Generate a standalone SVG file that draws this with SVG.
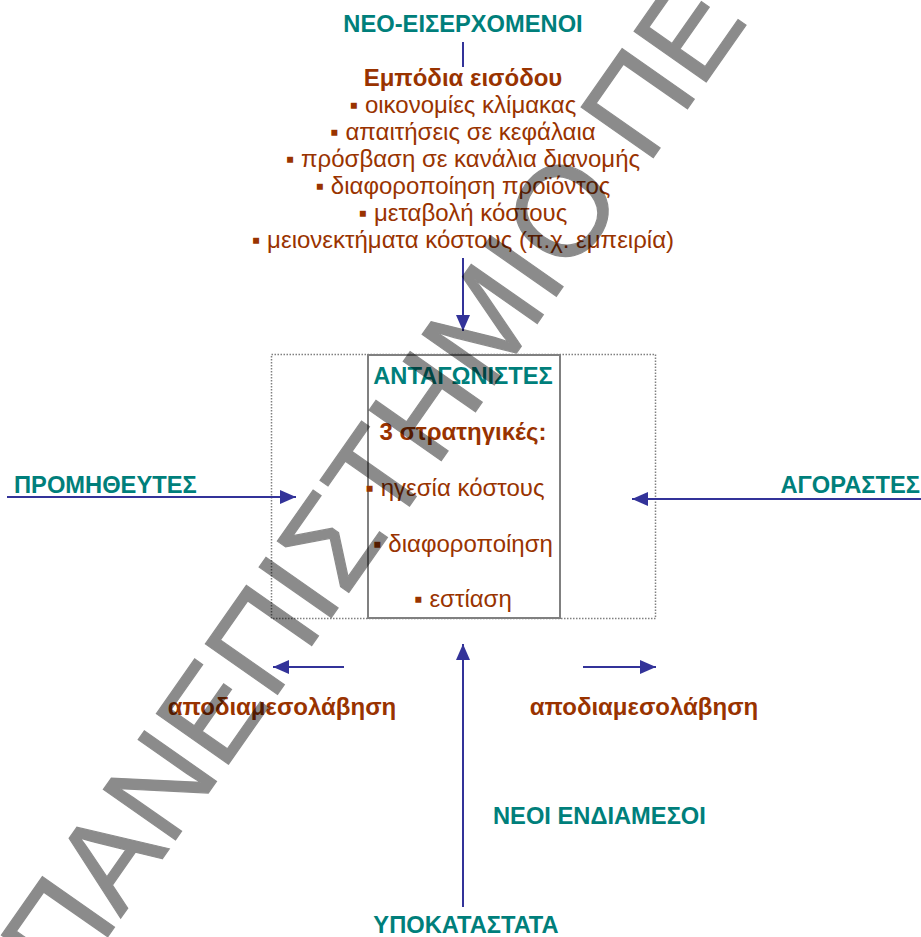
<svg xmlns="http://www.w3.org/2000/svg" width="921" height="937" viewBox="0 0 921 937">
<style>
text{font-family:"Liberation Sans",Arial,"DejaVu Sans",sans-serif}
.t{fill:#007f7b;font-weight:bold;font-size:23.7px}
.b{fill:#993300;font-weight:bold;font-size:24px}
.r{fill:#993300;font-size:24px}
.c{text-anchor:middle}
.ln{stroke:#333399;stroke-width:2;fill:none}
.wm{fill:#000;stroke:#000;stroke-width:1.2;opacity:0.45;font-size:128px}
</style>
<defs>
<marker id="ah" viewBox="0 0 10 10" refX="10" refY="5" markerWidth="16" markerHeight="14" markerUnits="userSpaceOnUse" orient="auto" preserveAspectRatio="none">
<path d="M0,0 L10,5 L0,10 Z" fill="#333399"/>
</marker>
</defs>
<rect width="921" height="937" fill="#fff"/>
<g id="frame">
<rect x="271.5" y="354.5" width="384" height="264" fill="none" stroke="#808080" stroke-width="1.5" stroke-dasharray="1.5 1.5"/>
</g>
<g id="connectors">
<line class="ln" x1="463" y1="42" x2="463" y2="67"/>
<line class="ln" x1="463" y1="258" x2="463" y2="331" marker-end="url(#ah)"/>
<line class="ln" x1="7" y1="497" x2="296" y2="497" marker-end="url(#ah)"/>
<line class="ln" x1="921" y1="499" x2="632" y2="499" marker-end="url(#ah)"/>
<line class="ln" x1="344" y1="667" x2="273" y2="667" marker-end="url(#ah)"/>
<line class="ln" x1="583" y1="667" x2="656" y2="667" marker-end="url(#ah)"/>
<line class="ln" x1="463" y1="907" x2="463" y2="644" marker-end="url(#ah)"/>
</g>
<g id="new-entrants">
<text class="t c" x="463" y="32">ΝΕΟ-ΕΙΣΕΡΧΟΜΕΝΟΙ</text>
</g>
<g id="barriers">
<text class="b c" x="463" y="86">Εμπόδια εισόδου</text>
<text class="r c" x="463" y="113">▪ οικονομίες κλίμακας</text>
<text class="r c" x="463" y="140">▪ απαιτήσεις σε κεφάλαια</text>
<text class="r c" x="463" y="167">▪ πρόσβαση σε κανάλια διανομής</text>
<text class="r c" x="463" y="194">▪ διαφοροποίηση προϊόντος</text>
<text class="r c" x="463" y="221">▪ μεταβολή κόστους</text>
<text class="r c" x="463" y="248">▪ μειονεκτήματα κόστους (π.χ. εμπειρία)</text>
</g>
<g id="competitors">
<rect x="368" y="355" width="192" height="263" fill="none" stroke="#808080" stroke-width="2"/>
<text class="t c" x="463" y="384">ΑΝΤΑΓΩΝΙΣΤΕΣ</text>
<text class="b c" x="463" y="440">3 στρατηγικές:</text>
<text class="r c" x="455" y="496">▪ ηγεσία κόστους</text>
<text class="r c" x="463" y="552">▪ διαφοροποίηση</text>
<text class="r c" x="463" y="607">▪ εστίαση</text>
</g>
<g id="suppliers">
<text class="t" x="14" y="493">ΠΡΟΜΗΘΕΥΤΕΣ</text>
</g>
<g id="buyers">
<text class="t" x="920" y="493" text-anchor="end">ΑΓΟΡΑΣΤΕΣ</text>
</g>
<g id="disintermediation-left">
<text class="b c" x="282" y="715">αποδιαμεσολάβηση</text>
</g>
<g id="disintermediation-right">
<text class="b c" x="644" y="715">αποδιαμεσολάβηση</text>
</g>
<g id="new-intermediaries">
<text class="t" x="493" y="824">ΝΕΟΙ ΕΝΔΙΑΜΕΣΟΙ</text>
</g>
<g id="substitutes">
<text class="t c" x="466" y="933">ΥΠΟΚΑΤΑΣΤΑΤΑ</text>
</g>
<g id="watermark">
<text class="wm" transform="translate(67.6,994.2) rotate(-55)">ΠΑΝΕΠΙΣΤΗΜΙΟ ΠΕ</text>
</g>
</svg>
